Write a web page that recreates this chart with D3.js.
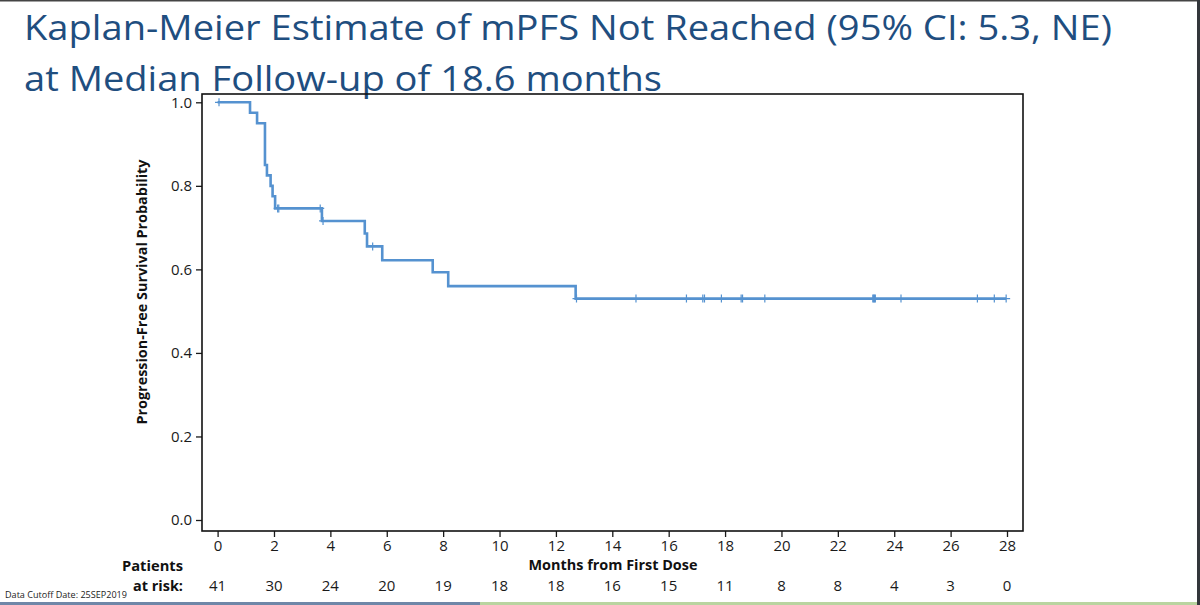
<!DOCTYPE html>
<html lang="en">
<head>
  <meta charset="UTF-8">
  <title>Kaplan-Meier mPFS</title>
  <script src="https://d3js.org/d3.v7.min.js"></script>
  <style>
    html, body { margin: 0; padding: 0; background: #fff; }
    svg { display: block; }
    .axis text { font-family: "Open Sans", sans-serif; font-size: 15px; fill: #1a1a1a; }
    .axis line { stroke: #1a1a1a; stroke-width: 1.3px; }
    .axis path { display: none; }
  </style>
</head>
<body>
  <svg id="chart" width="1200" height="605"></svg>

  <script>
    // data
    const stepTimes = [0, 1.15, 1.40, 1.68, 1.75, 1.88, 1.95, 2.04, 3.70, 5.22, 5.30, 5.84, 7.63, 8.18, 12.70, 27.97];
    const stepSurv  = [1.0, 0.975, 0.95, 0.85, 0.825, 0.80, 0.775, 0.746, 0.716, 0.686, 0.655, 0.622, 0.593, 0.56, 0.53, 0.53];
    const censorTimes = [0.05, 2.13, 2.17, 3.64, 3.74, 5.50, 12.73, 14.84, 16.63, 17.21, 17.27, 17.87,
                         18.57, 18.62, 19.41, 23.24, 23.27, 23.30, 23.33, 24.24, 26.95, 27.55, 27.97];
    const xTicks = d3.range(0, 29, 2);
    const yTicks = [0, 0.2, 0.4, 0.6, 0.8, 1.0];
    const atRisk = [41, 30, 24, 20, 19, 18, 18, 16, 15, 11, 8, 8, 4, 3, 0];

    const titleLines = [
      "Kaplan-Meier Estimate of mPFS Not Reached (95% CI: 5.3, NE)",
      "at Median Follow-up of 18.6 months"
    ];

    // plot frame
    const frame = { left: 202, right: 1023, top: 94, bottom: 531 };

    const svg = d3.select("#chart");

    // slide borders
    svg.append("rect").attr("x", 0).attr("y", 0).attr("width", 1200).attr("height", 1.5).attr("fill", "#444");
    svg.append("rect").attr("x", 1197).attr("y", 0).attr("width", 3).attr("height", 605).attr("fill", "#33363b");
    svg.append("rect").attr("x", 0).attr("y", 602).attr("width", 480).attr("height", 3).attr("fill", "#6f87a8");
    svg.append("rect").attr("x", 480).attr("y", 602).attr("width", 717).attr("height", 3).attr("fill", "#b9d4a0");

    // title
    const titleW = [1088, 638];
    svg.selectAll(".title")
      .data(titleLines)
      .enter()
      .append("text")
      .attr("class", "title")
      .attr("x", 24)
      .attr("y", (d, i) => 40 + i * 50.5)
      .attr("textLength", (d, i) => titleW[i])
      .attr("lengthAdjust", "spacingAndGlyphs")
      .style("font-family", "'Open Sans', sans-serif")
      .style("font-size", "34px")
      .style("fill", "#1f4e7f")
      .text(d => d);

    const x = d3.scaleLinear().domain([0, 28]).range([217.6, 1007]);
    const y = d3.scaleLinear().domain([0, 1]).range([520, 102.3]);

    // axes
    svg.append("g")
      .attr("class", "axis")
      .attr("transform", `translate(0,${frame.bottom})`)
      .call(d3.axisBottom(x).tickValues(xTicks).tickSize(6).tickPadding(3).tickFormat(d3.format("d")));

    svg.append("g")
      .attr("class", "axis")
      .attr("transform", `translate(${frame.left},0)`)
      .call(d3.axisLeft(y).tickValues(yTicks).tickSize(6).tickPadding(4).tickFormat(d3.format(".1f")));

    // frame box
    svg.append("rect")
      .attr("x", frame.left)
      .attr("y", frame.top)
      .attr("width", frame.right - frame.left)
      .attr("height", frame.bottom - frame.top)
      .attr("fill", "none")
      .attr("stroke", "#111")
      .attr("stroke-width", 1.6);

    // KM step curve
    const pts = stepTimes.map((t, i) => [t, stepSurv[i]]);
    const line = d3.line()
      .x(d => x(d[0]))
      .y(d => y(d[1]))
      .curve(d3.curveStepAfter);

    svg.append("path")
      .datum(pts)
      .attr("fill", "none")
      .attr("stroke", "#5592d0")
      .attr("stroke-width", 2.6)
      .attr("d", line);

    // censor marks
    function survAt(t) {
      let s = stepSurv[0];
      for (let i = 0; i < stepTimes.length; i++) {
        if (stepTimes[i] <= t) s = stepSurv[i];
      }
      return s;
    }
    const cs = 4;
    svg.selectAll(".censor")
      .data(censorTimes)
      .enter()
      .append("path")
      .attr("class", "censor")
      .attr("fill", "none")
      .attr("stroke", "#5592d0")
      .attr("stroke-width", 1.2)
      .attr("d", d => {
        const cx = x(d), cy = y(survAt(d));
        return `M${cx - cs},${cy}H${cx + cs}M${cx},${cy - cs}V${cy + cs}`;
      });

    // axis titles
    svg.append("text")
      .attr("transform", "translate(147,292) rotate(-90)")
      .attr("text-anchor", "middle")
      .attr("textLength", 265)
      .attr("lengthAdjust", "spacingAndGlyphs")
      .style("font-family", "'Open Sans', sans-serif")
      .style("font-size", "13.5px")
      .style("font-weight", "bold")
      .style("fill", "#111")
      .text("Progression-Free Survival Probability");

    svg.append("text")
      .attr("x", 613)
      .attr("y", 570)
      .attr("text-anchor", "middle")
      .attr("textLength", 169)
      .attr("lengthAdjust", "spacingAndGlyphs")
      .style("font-family", "'Open Sans', sans-serif")
      .style("font-size", "14.5px")
      .style("font-weight", "bold")
      .style("fill", "#111")
      .text("Months from First Dose");

    // patients at risk
    const riskLabels = ["Patients", "at risk:"];
    const riskLabelW = [61, 50];
    svg.selectAll(".risklabel")
      .data(riskLabels)
      .enter()
      .append("text")
      .attr("class", "risklabel")
      .attr("x", 183)
      .attr("y", (d, i) => 571 + i * 20)
      .attr("text-anchor", "end")
      .attr("textLength", (d, i) => riskLabelW[i])
      .attr("lengthAdjust", "spacingAndGlyphs")
      .style("font-family", "'Open Sans', sans-serif")
      .style("font-size", "15px").style("font-weight", "bold").style("fill", "#111")
      .text(d => d);

    svg.selectAll(".risk")
      .data(atRisk)
      .enter()
      .append("text")
      .attr("class", "risk")
      .attr("x", (d, i) => x(xTicks[i]))
      .attr("y", 591)
      .attr("text-anchor", "middle")
      .style("font-family", "'Open Sans', sans-serif")
      .style("font-size", "15px")
      .style("fill", "#1a1a1a")
      .text(d => d);

    // footnote
    svg.append("text")
      .attr("x", 5).attr("y", 598)
      .attr("textLength", 122)
      .attr("lengthAdjust", "spacingAndGlyphs")
      .style("font-family", "'Open Sans', sans-serif")
      .style("font-size", "9px").style("fill", "#222")
      .text("Data Cutoff Date: 25SEP2019");
  </script>
</body>
</html>
